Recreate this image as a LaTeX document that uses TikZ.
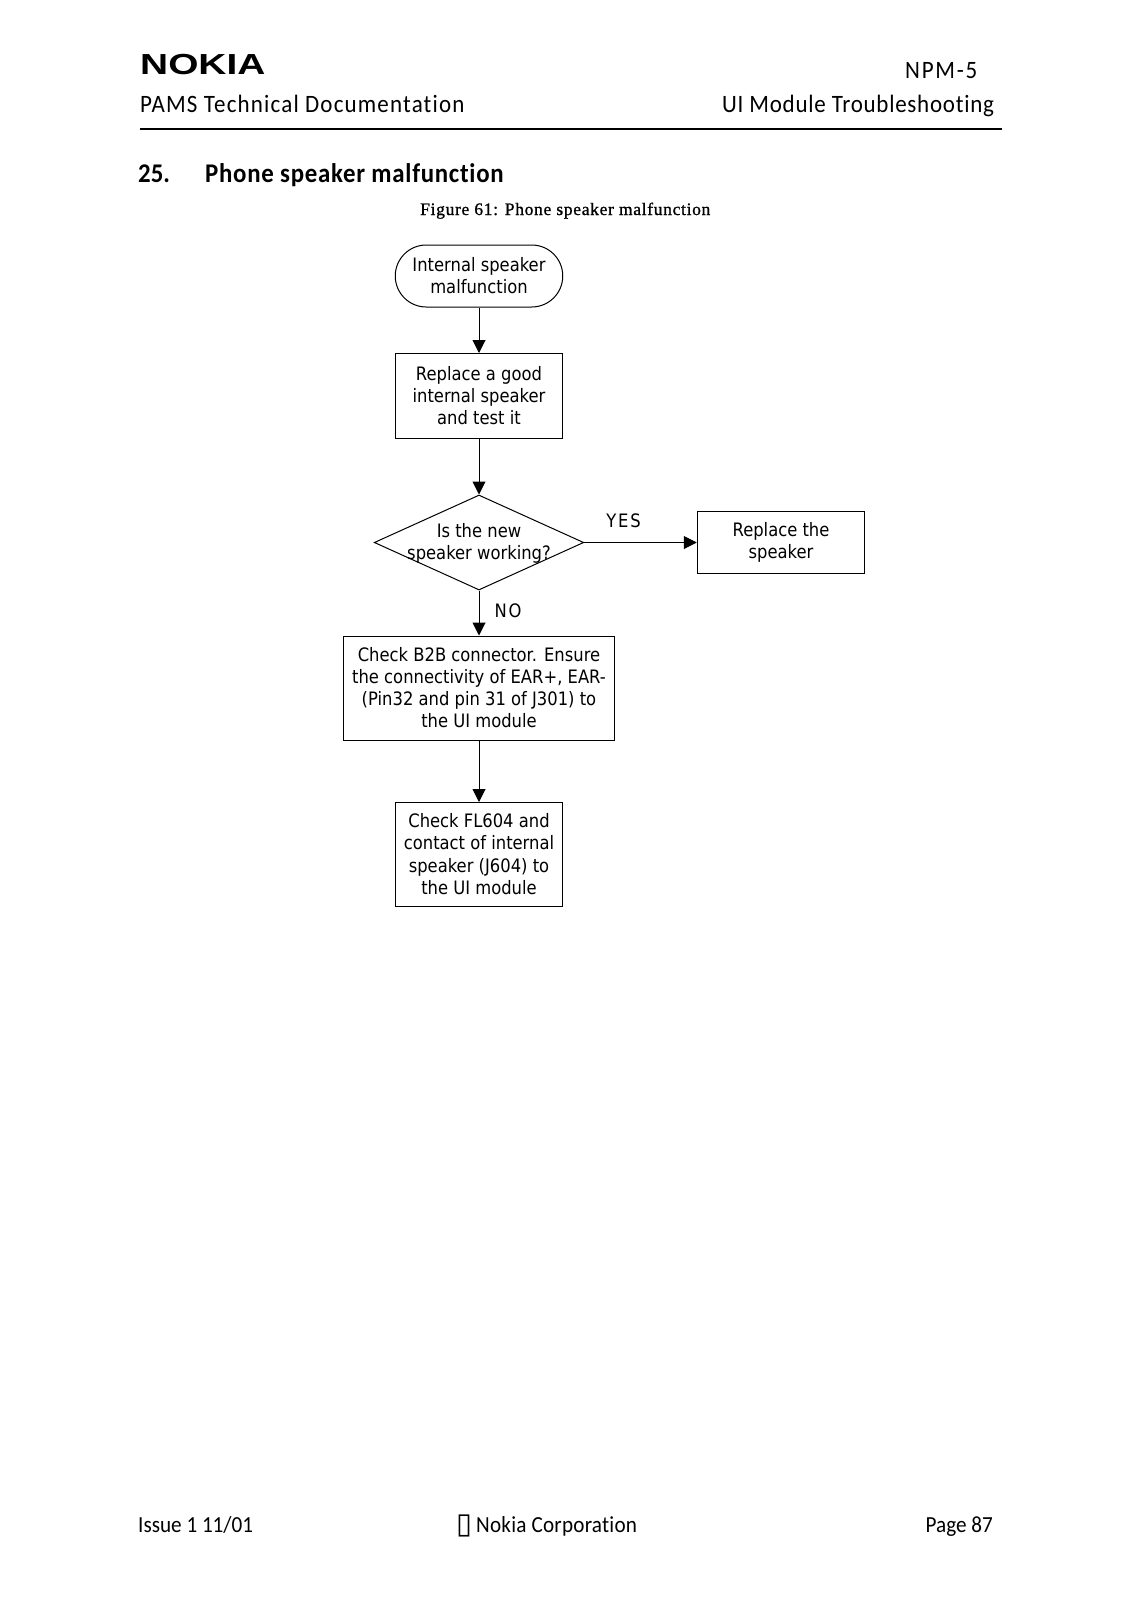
\documentclass[tikz,border=0pt]{standalone}
\usepackage{fontspec}
\usetikzlibrary{shapes.geometric,arrows.meta}
\setmainfont[FakeStretch=0.92,Ligatures=NoCommon]{Carlito}
\newfontfamily\flowfont[FakeStretch=0.885]{DejaVu Sans}
\newfontfamily\capfont[FakeBold=1,LetterSpace=3.9]{Liberation Serif}
\newfontfamily\symfont{DejaVu Sans}
\newfontfamily\logofont{Liberation Sans}
\tikzset{
  x=1pt,y=-1pt,
  flowtext/.style={font=\flowfont\fontsize{18.5}{22.2}\selectfont,align=center,inner sep=0pt,text=black},
  boxnode/.style={flowtext,draw=black,line width=1pt,rectangle},
  startnode/.style={boxnode,rounded corners=31pt},
  decisionnode/.style={draw=black,line width=1pt,diamond,inner sep=0pt,aspect=2.2},
  flowarrow/.style={draw=black,line width=1pt,-{Triangle[length=13pt,width=13pt]}},
  headtext/.style={font=\fontsize{25}{30}\selectfont,inner sep=0pt,anchor=base west,text=black},
  foottext/.style={font=\fontsize{23}{28}\selectfont,inner sep=0pt,anchor=base west,text=black},
  titletext/.style={font=\bfseries\fontsize{27}{32}\selectfont,inner sep=0pt,anchor=base west,text=black},
}
\begin{document}
\begin{tikzpicture}
\useasboundingbox[fill=white] (0,0) rectangle (1131,1600);
% header
\node[inner sep=0pt,anchor=base west] (logo) at (140,75) {\scalebox{1.34}[1]{\logofont\bfseries\fontsize{29}{30}\selectfont NOKIA}};
\node[headtext] (npm) at (905,79) {\addfontfeature{LetterSpace=7}NPM-5};
\node[headtext] (pams) at (140,113) {\addfontfeature{LetterSpace=4.7}PAMS Technical Documentation};
\node[headtext] (uimod) at (722,113) {\addfontfeature{LetterSpace=3}UI Module Troubleshooting};
\coordinate (ruleL) at (140,129.5);
\coordinate (ruleR) at (1002,129.5);
\draw[line width=2pt,draw=black] (ruleL) -- (ruleR);
\node[titletext] (secnum) at (138,182) {25.};
\node[titletext] (sectitle) at (205,182) {\addfontfeature{LetterSpace=2.7}Phone speaker malfunction};
\node[inner sep=0pt,anchor=base west,font=\capfont\fontsize{17.5}{20}\selectfont] (caption) at (420,215) {Figure 61: Phone speaker malfunction};
% flowchart
\node[startnode,minimum width=167.5pt,minimum height=62pt] (start) at (479,276) {Internal speaker\\malfunction};
\node[boxnode,minimum width=167.5pt,minimum height=85pt] (replace) at (479,396) {\raisebox{1pt}{Replace a good}\\\raisebox{1pt}{internal speaker}\\\raisebox{1pt}{and test it}};
\node[decisionnode,minimum width=209.5pt,minimum height=95pt] (decide) at (479,542.5) {};
\node[flowtext] (decidetext) at (479,543.5) {Is the new\\speaker working?};
\node[boxnode,minimum width=167.5pt,minimum height=62pt] (swap) at (781,542.5) {\raisebox{-2pt}{Replace the}\\\raisebox{-2pt}{speaker}};
\node[boxnode,minimum width=271.5pt,minimum height=104pt] (check) at (479,688) {\raisebox{1pt}{Check B2B connector. Ensure}\\\raisebox{1pt}{the connectivity of EAR+, EAR-}\\\raisebox{1pt}{(Pin32 and pin 31 of J301) to}\\\raisebox{1pt}{the UI module}};
\node[boxnode,minimum width=167.5pt,minimum height=104pt] (fl) at (479,854.5) {\raisebox{1pt}{Check FL604 and}\\\raisebox{1pt}{contact of internal}\\\raisebox{1pt}{speaker (J604) to}\\\raisebox{1pt}{the UI module}};
\node[flowtext] (yes) at (623.5,520.5) {\addfontfeature{LetterSpace=10}YES};
\node[flowtext] (no) at (508,610.5) {\addfontfeature{LetterSpace=10}NO};
\draw[flowarrow] (start) -- (replace);
\draw[flowarrow] (replace) -- (decide);
\draw[flowarrow] (decide) -- (swap);
\draw[flowarrow] (decide) -- (check);
\draw[flowarrow] (check) -- (fl);
% footer
\node[foottext] (issue) at (138,1532) {Issue 1 11/01};
\node[inner sep=0pt,anchor=base west,font=\symfont\fontsize{29}{34}\selectfont] (copy) at (456,1533) {▯};
\node[foottext] (corp) at (476,1532) {\addfontfeature{LetterSpace=1}Nokia Corporation};
\node[foottext,anchor=base east] (page) at (993,1532) {Page 87};
\end{tikzpicture}
\end{document}
